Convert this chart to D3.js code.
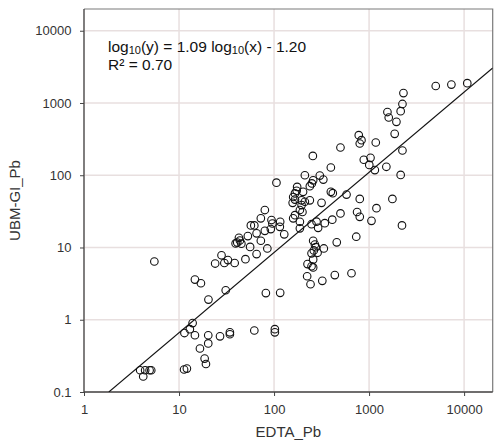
<!DOCTYPE html>
<html><head><meta charset="utf-8">
<script src="https://cdn.jsdelivr.net/npm/d3@7"></script>
<style>body{margin:0;background:#fff}svg{display:block}text{font-family:"Liberation Sans",Arial,sans-serif}</style>
</head><body><svg id="c" width="497" height="446"></svg>
<script>
const edtaPb = [3.9,4.4,4.9,5.1,4.2,5.5,11.3,12.1,11.4,13,13.9,14.7,14.7,17,16.6,18.6,19.2,20.3,20.3,20.4,27,31,34.3,34.3,62,82,102,102,116,
24,28,30,32.7,38.5,50,56,65.5,85,39.4,42.7,43.7,45.3,41,53,62,57,65.5,72.6,72.6,80,80,94,96,92.5,116,115,128,106,
175,173,166,159,166,157,202,195,211,238,195,187,199,166,159,187,187,211,258,238,250,303,330,396,316,396,415,579,248,280,291,342,410,500,
748,798,798,1196,1060,1760,2220,880,1035,1005,1150,1520,2150,779,832,798,1176,500,256,2300,2245,2150,1560,1610,1940,1860,2245,5030,7350,10800,
258,269,275,287,248,258,225,248,258,334,457,733,223,242,322,436,653,262];
const ubmGiPb = [0.2,0.2,0.2,0.2,0.164,6.4,0.205,0.211,0.655,0.74,0.9,0.61,3.6,3.2,0.4,0.29,0.244,0.61,0.47,1.9,0.59,2.56,0.67,0.63,0.71,2.34,0.74,0.67,2.36,
6.0,7.8,6.1,6.7,6.1,6.9,10.2,8.1,9.7,11.4,13.6,12.5,11.3,11.7,14.4,20.2,20.2,15.7,12.4,25.3,33,17,24,21.5,18,22.7,19.3,15.2,79,
69,61,56,50,46,41.5,59,45,43,45,38.6,33,31,28,25.3,22.7,18.4,100,85,70.6,77,99,87,128,41.5,59,56.5,54,21,22.8,18.7,21.7,24.3,29.6,
31,26.6,47,35,23.4,47,20.2,164,174,139,118,131,101,359,306,275,284,242,185,1370,970,770,750,630,548,374,220,1720,1800,1880,
12.4,11,10.1,8.45,8.3,6.8,5.9,5.5,5.3,9.7,11.8,14.1,4.0,3.1,3.46,4.15,4.4,9.1];
const xTicks = [1,10,100,1000,10000];
const yTicks = [0.1,1,10,100,1000,10000];
const xTitle = "EDTA_Pb", yTitle = "UBM-GI_Pb";
const fitSlope = 1.11, fitIntercept = -1.29;   // drawn fit line as seen in the picture
const eqSlopeLabel = "1.09", eqInterceptLabel = "1.20", r2Label = "0.70";

const svg = d3.select("#c");
const L=84, R=492.7, T=9, B=392;
const x = d3.scaleLog().domain([1,20000]).range([L,R]);
const y = d3.scaleLog().domain([0.1,20000]).range([B,T]);
const grid = "#e8dfdf";

// grid
svg.append("g").selectAll("line").data(xTicks).join("line")
  .attr("x1",d=>x(d)).attr("x2",d=>x(d)).attr("y1",T).attr("y2",B)
  .attr("stroke",grid).attr("stroke-width",1.5);
svg.append("g").selectAll("line").data(yTicks).join("line")
  .attr("y1",d=>y(d)).attr("y2",d=>y(d)).attr("x1",L).attr("x2",R)
  .attr("stroke",grid).attr("stroke-width",1.5);

// border top/right
svg.append("path").attr("d",`M${L},${T}H${R}V${B}`).attr("fill","none").attr("stroke","#7a7a7a").attr("stroke-width",1.2);

// axes
const xa = svg.append("g").attr("transform",`translate(0,${B})`)
  .call(d3.axisBottom(x).tickValues(xTicks).tickFormat(d3.format("d")).tickSize(4).tickPadding(8.5));
const ya = svg.append("g").attr("transform",`translate(${L},0)`)
  .call(d3.axisLeft(y).tickValues(yTicks).tickFormat(d=>String(d)).tickSize(4).tickPadding(8.5));
[xa,ya].forEach(a=>{
  a.select(".domain").attr("stroke","#444").attr("stroke-width",1.3);
  a.selectAll(".tick line").attr("stroke","#444");
  a.selectAll("text").attr("font-size",13).attr("fill","#333").attr("font-family",'"Liberation Sans",Arial,sans-serif');
});
xa.select(".domain").attr("d",`M${L},0H${R}`);
ya.select(".domain").attr("d",`M0,${B}V${T}`);

// fit line
const clipId="clp";
svg.append("clipPath").attr("id",clipId).append("rect").attr("x",L).attr("y",T).attr("width",R-L).attr("height",B-T);
const x0 = Math.pow(10,(-1-fitIntercept)/fitSlope), x1 = 20000;
svg.append("line").attr("clip-path",`url(#${clipId})`)
  .attr("x1",x(x0)).attr("y1",y(Math.pow(10,fitSlope*Math.log10(x0)+fitIntercept)))
  .attr("x2",x(x1)).attr("y2",y(Math.pow(10,fitSlope*Math.log10(x1)+fitIntercept)))
  .attr("stroke","#111").attr("stroke-width",1.1);

// points
svg.append("g").selectAll("circle").data(edtaPb.map((v,i)=>[v,ubmGiPb[i]])).join("circle")
  .attr("cx",d=>x(d[0])).attr("cy",d=>y(d[1])).attr("r",3.8)
  .attr("fill","none").attr("stroke","#111").attr("stroke-width",1.1);

// equation
const eq = svg.append("text").attr("x",108).attr("y",52).attr("font-size",15.5).attr("fill","#111");
eq.append("tspan").text("log");
eq.append("tspan").attr("font-size",11).attr("dy",2).text("10");
eq.append("tspan").attr("dy",-2).text("(y) = "+eqSlopeLabel+" log");
eq.append("tspan").attr("font-size",11).attr("dy",2).text("10");
eq.append("tspan").attr("dy",-2).text("(x) - "+eqInterceptLabel);
svg.append("text").attr("x",108).attr("y",69.5).attr("font-size",15.5).attr("fill","#111").text("R² = "+r2Label);

// titles
svg.append("text").attr("x",(L+R)/2).attr("y",437).attr("text-anchor","middle").attr("font-size",15).attr("fill","#333").text(xTitle);
svg.append("text").attr("transform",`translate(19.5,${(T+B)/2}) rotate(-90)`).attr("text-anchor","middle").attr("font-size",15).attr("fill","#333").text(yTitle);
</script></body></html>
